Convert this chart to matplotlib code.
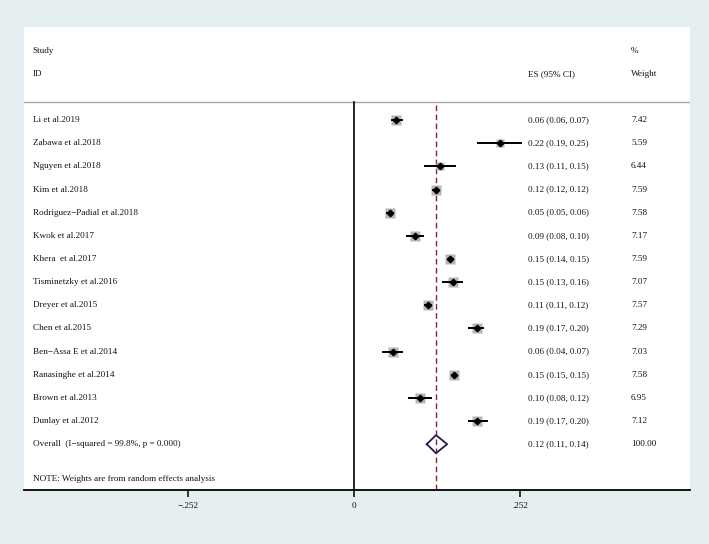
import matplotlib.pyplot as plt
import numpy as np

plt.rcParams['font.family'] = ['Liberation Serif', 'DejaVu Serif']

# study rows, top to bottom
studies = ["Li et al.2019", "Zabawa et al.2018", "Nguyen et al.2018", "Kim et al.2018",
           "Rodriguez\u2212Padial et al.2018", "Kwok et al.2017", "Khera  et al.2017",
           "Tisminetzky et al.2016", "Dreyer et al.2015", "Chen et al.2015",
           "Ben\u2212Assa E et al.2014", "Ranasinghe et al.2014", "Brown et al.2013",
           "Dunlay et al.2012"]
es = [0.064, 0.221, 0.130, 0.1236, 0.054, 0.092, 0.146, 0.150, 0.112, 0.186, 0.058, 0.151, 0.100, 0.186]
lo = [0.057, 0.188, 0.107, 0.120, 0.050, 0.080, 0.142, 0.134, 0.108, 0.174, 0.043, 0.148, 0.083, 0.174]
hi = [0.072, 0.253, 0.153, 0.124, 0.058, 0.104, 0.150, 0.164, 0.116, 0.196, 0.073, 0.153, 0.117, 0.201]
weights = [7.42, 5.59, 6.44, 7.59, 7.58, 7.17, 7.59, 7.07, 7.57, 7.29, 7.03, 7.58, 6.95, 7.12]

overall_es, overall_lo, overall_hi = 0.124, 0.110, 0.141
overall_label = "Overall  (I\u2212squared = 99.8%, p = 0.000)"
note = "NOTE: Weights are from random effects analysis"
xticks = [-0.252, 0, 0.252]
xticklabels = ["\u2212.252", "0", ".252"]

bg = "#e5eef0"
fig = plt.figure(figsize=(7.09, 5.44), dpi=100, facecolor=bg)
ax = fig.add_axes([24 / 709, 1 - 490 / 544, 666 / 709, 463 / 544])
ax.set_facecolor("white")

x_left = (24 - 354.3) / 658.7
x_right = (690 - 354.3) / 658.7
ax.set_xlim(x_left, x_right)
ax.set_ylim(15.98, -4.02)

n = len(studies)
rows = np.arange(n)
fs = 6.6
tc = "#111111"

# header
ax.text(-0.488, -3, "Study", fontsize=fs, va="center", color=tc)
ax.text(-0.488, -2, "ID", fontsize=fs, va="center", color=tc)
ax.text(0.2637, -2, "ES (95% CI)", fontsize=fs, va="center", color=tc)
ax.text(0.420, -3, "%", fontsize=fs, va="center", color=tc)
ax.text(0.420, -2, "Weight", fontsize=fs, va="center", color=tc)
ax.axhline(-0.78, color="#a8a8a8", lw=1.0)

# reference lines
ax.plot([0, 0], [-0.78, 15.98], color="black", lw=1.2)
ax.plot([overall_es, overall_es], [-0.65, 15.98], color="#8b2232", lw=1.0,
        dashes=(4, 2.5))

for i in range(n):
    y = rows[i]
    ax.text(-0.488, y, studies[i], fontsize=fs, va="center", color=tc)
    ax.text(0.2637, y, f"{es[i]:.2f} ({lo[i]:.2f}, {hi[i]:.2f})", fontsize=fs,
            va="center", color=tc)
    ax.text(0.420, y, f"{weights[i]:.2f}", fontsize=fs, va="center", color=tc)
    ms = 6.8 * np.sqrt(weights[i] / 7.59)
    ax.plot(es[i], y, marker="s", ms=ms, color="#b5b5b5", mec="none", zorder=2)
    ax.plot([lo[i], hi[i]], [y, y], color="black", lw=1.4, zorder=3)
    ax.plot(es[i], y, marker="D", ms=3.3, color="black", zorder=4)

# overall diamond
oy = n
h = 0.39
ax.plot([overall_lo, overall_es, overall_hi, overall_es, overall_lo],
        [oy, oy - h, oy, oy + h, oy], color="#1f1f4f", lw=1.3, zorder=4)
ax.text(-0.488, oy, overall_label, fontsize=fs, va="center", color=tc)
ax.text(0.2637, oy, f"{overall_es:.2f} ({overall_lo:.2f}, {overall_hi:.2f})",
        fontsize=fs, va="center", color=tc)
ax.text(0.420, oy, "100.00", fontsize=fs, va="center", color=tc)
ax.text(-0.488, 15.5, note, fontsize=fs, va="center", color=tc)

for s in ["top", "left", "right"]:
    ax.spines[s].set_visible(False)
ax.spines["bottom"].set_linewidth(1.3)
ax.set_yticks([])
ax.set_xticks(xticks)
ax.set_xticklabels(xticklabels, fontsize=fs, color=tc)
ax.tick_params(axis="x", length=5, width=1.1, pad=4)

fig.savefig("out.png", dpi=100, facecolor=bg)
